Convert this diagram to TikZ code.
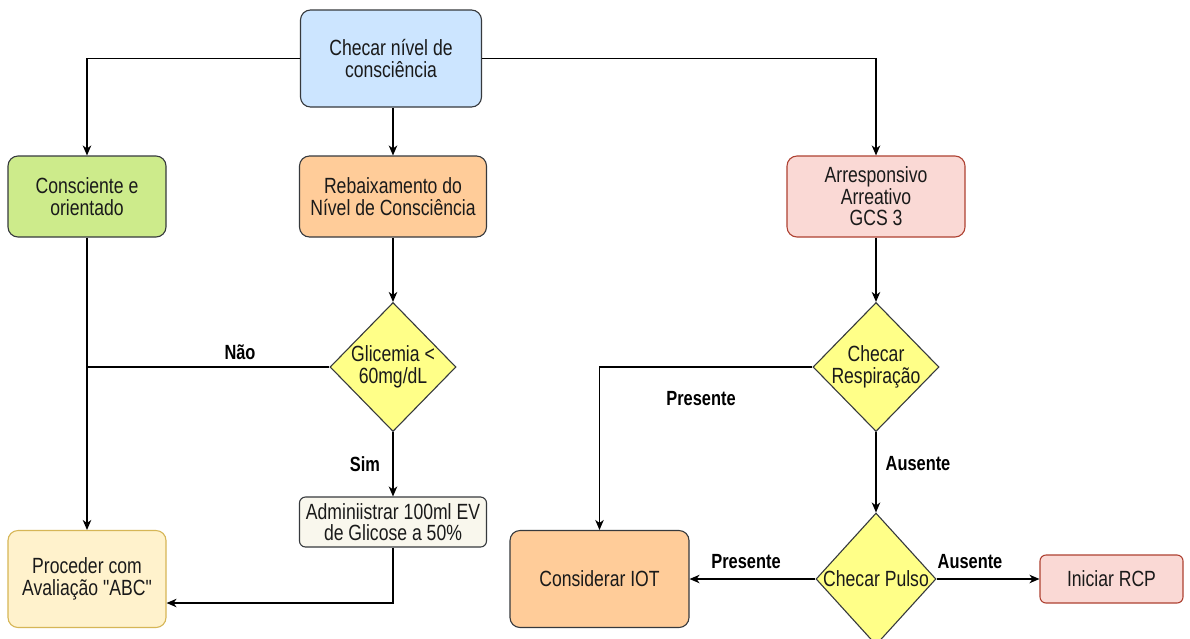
\documentclass[tikz,border=0pt]{standalone}
\usepackage{fontspec}
\newfontfamily\mainf{Liberation Sans}[FakeStretch=0.8]
\usetikzlibrary{shapes.geometric,arrows.meta}
\definecolor{txt}{HTML}{1A1A1A}
\definecolor{strk}{HTML}{36393D}
\definecolor{cblue}{HTML}{CCE5FF}
\definecolor{cgreen}{HTML}{CDEB8B}
\definecolor{corange}{HTML}{FFCC99}
\definecolor{cpink}{HTML}{FAD9D5}
\definecolor{cpinkst}{HTML}{AE4132}
\definecolor{cyel}{HTML}{FFFF88}
\definecolor{ccream}{HTML}{F9F7ED}
\definecolor{cpale}{HTML}{FFF2CC}
\definecolor{cpalest}{HTML}{D6B656}
\tikzset{
  boxnode/.style={draw=strk, line width=1.1pt, rounded corners=10pt, align=center,
    text=txt, font=\mainf\fontsize{22}{21.5}\selectfont, inner sep=0pt},
  dianode/.style={draw=strk, line width=1.1pt, shape=diamond, fill=cyel, inner sep=0pt},
  diatext/.style={align=center, text=txt, font=\mainf\fontsize{22}{21.5}\selectfont, inner sep=0pt},
  lbl/.style={font=\mainf\fontsize{20.5}{21}\bfseries\selectfont, text=black, inner sep=0pt},
  conn/.style={line width=1.3pt, draw=black},
  arr/.style={conn, -{Stealth[length=10pt,width=8.5pt,inset=3pt]}},
}
\begin{document}
\begin{tikzpicture}[x=1pt,y=-1pt]
\useasboundingbox (0,0) rectangle (1190,638);
\clip (0,0) rectangle (1190,638);
\fill[white] (0,0) rectangle (1190,638);

% nodes
\node[boxnode, fill=cblue, minimum width=181, minimum height=97] (top) at (391,58.5) {Checar nível de\\consciência};
\node[boxnode, fill=cgreen, minimum width=158, minimum height=81] (cons) at (87,196.5) {Consciente e\\orientado};
\node[boxnode, fill=corange, minimum width=187, minimum height=81] (reb) at (393,196.5) {Rebaixamento do\\Nível de Consciência};
\node[boxnode, draw=cpinkst, fill=cpink, minimum width=178, minimum height=81] (arr) at (876,196.5) {Arresponsivo\\Arreativo\\GCS 3};

\node[dianode, minimum width=126, minimum height=129] (glic) at (393,367) {};
\node[diatext] (glict) at (glic.center) {Glicemia <\\60mg/dL};
\node[dianode, minimum width=126, minimum height=129] (resp) at (876,367) {};
\node[diatext] (respt) at (resp.center) {Checar\\Respiração};
\node[dianode, minimum width=120, minimum height=132] (puls) at (876,579) {};
\node[diatext] (pulst) at (puls.center) {Checar Pulso};

\node[boxnode, rounded corners=6pt, fill=ccream, minimum width=187, minimum height=50] (adm) at (393,522) {Adminiistrar 100ml EV\\de Glicose a 50\%};
\node[boxnode, draw=cpalest, fill=cpale, minimum width=158, minimum height=97] (proc) at (87,579) {Proceder com\\Avaliação "ABC"};
\node[boxnode, fill=corange, minimum width=179, minimum height=97] (iot) at (599.5,579) {Considerar IOT};
\node[boxnode, rounded corners=6pt, draw=cpinkst, fill=cpink, minimum width=143, minimum height=48] (rcp) at (1111.5,579) {Iniciar RCP};

\coordinate (pin) at (0,603);

% connectors
\draw[arr] (top.west) -| (cons.north);
\draw[arr] (top.east) -| (arr.north);
\draw[arr] (top.south -| reb.north) -- (reb.north);
\draw[arr] (reb.south) -- (glic.north);
\draw[conn] (glic.west) -- (glic.west -| cons.south);
\draw[arr] (cons.south) -- (proc.north);
\draw[arr] (glic.south) -- (adm.north);
\draw[arr] (adm.south) |- (proc.east |- pin);
\draw[arr] (arr.south) -- (resp.north);
\draw[arr] (resp.west) -| (iot.north);
\draw[arr] (resp.south) -- (puls.north);
\draw[arr] (puls.west) -- (iot.east);
\draw[arr] (puls.east) -- (rcp.west);

% labels
\node[lbl] (lnao) at (240,352) {Não};
\node[lbl] (lsim) at (365,464) {Sim};
\node[lbl] (lpres1) at (701,399) {Presente};
\node[lbl] (laus1) at (918,464) {Ausente};
\node[lbl] (lpres2) at (746,562) {Presente};
\node[lbl] (laus2) at (970,562) {Ausente};
\end{tikzpicture}
\end{document}
